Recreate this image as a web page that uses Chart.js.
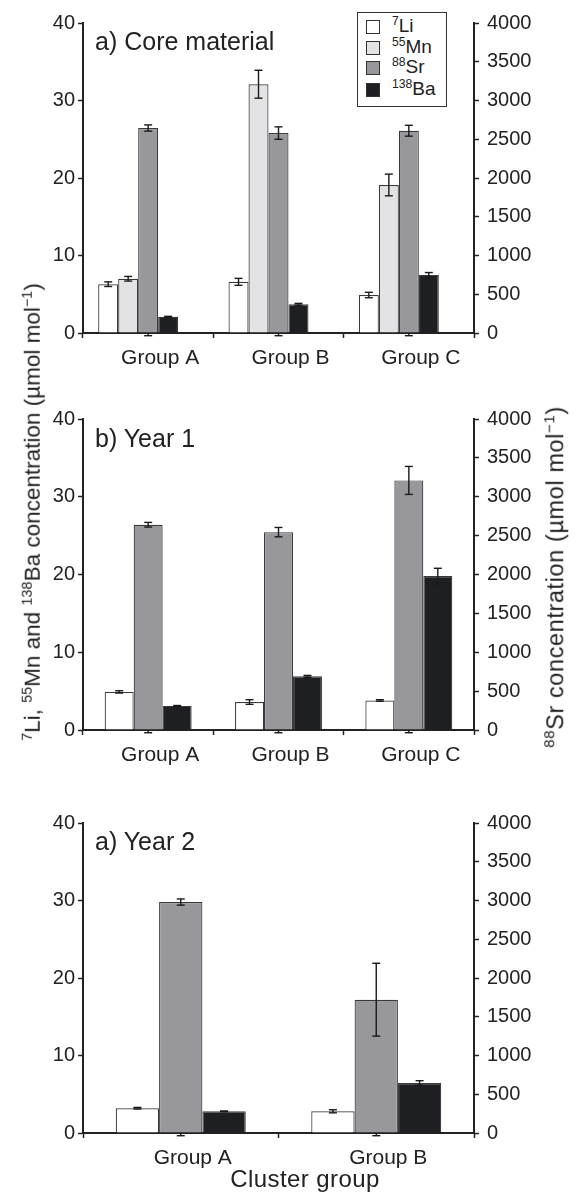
<!DOCTYPE html>
<html><head><meta charset="utf-8">
<script src="https://cdn.jsdelivr.net/npm/chart.js@4.4.1/dist/chart.umd.min.js"></script>
<style>
html,body{margin:0;padding:0;background:#fff;}
body{width:579px;height:1192px;position:relative;overflow:hidden;font-family:"Liberation Sans",Arial,sans-serif;color:#222;}
canvas{position:absolute;left:0;}
.t{position:absolute;white-space:nowrap;line-height:1;color:#222;}
.t sup, .lg sup{font-size:0.64em;vertical-align:0;position:relative;top:-0.58em;}
.rot{transform:translate(-50%,-50%) rotate(-90deg);}
#legend{position:absolute;left:357px;top:12px;width:88px;height:93px;border:1.3px solid #333;background:#fff;}
.lg{position:absolute;left:8px;height:14px;font-size:19px;line-height:1;white-space:nowrap;}
.sw{position:absolute;left:0;top:0;width:12px;height:12px;border:1px solid #333;}
.lt{position:absolute;left:26px;top:-4px;}
</style></head><body>
<canvas id="c1" width="579" height="390" style="top:0px"></canvas>
<canvas id="c2" width="579" height="400" style="top:390px"></canvas>
<canvas id="c3" width="579" height="402" style="top:790px"></canvas>
<div id="legend"></div>
<div id="texts"></div>
<script>
// ---------- data ----------
const isotopes = ['7', '55', '88', '138'];
const elements = ['Li', 'Mn', 'Sr', 'Ba'];
const fillColors = ['#ffffff', '#e3e3e5', '#98979c', '#1e1f23'];

// a) Core material
const coreGroups = ['Group A', 'Group B', 'Group C'];
const coreLi = [6.3, 6.6, 4.9];
const coreLiErr = [0.3, 0.45, 0.35];
const coreMn = [7.0, 32.1, 19.1];
const coreMnErr = [0.3, 1.8, 1.4];
const coreSr = [2645, 2580, 2610];
const coreSrErr = [40, 80, 70];
const coreBa = [2.1, 3.7, 7.5];
const coreBaErr = [0.05, 0.12, 0.3];
const coreZeroErr = [0.35, 0.35, 0.35];

// b) Year 1
const y1Groups = ['Group A', 'Group B', 'Group C'];
const y1Li = [4.9, 3.6, 3.8];
const y1LiErr = [0.15, 0.3, 0.1];
const y1Sr = [2640, 2545, 3210];
const y1SrErr = [30, 60, 180];
const y1Ba = [3.1, 6.9, 19.8];
const y1BaErr = [0.05, 0.12, 1.0];
const y1ZeroErr = [0.35, 0.35, 0.35];

// a) Year 2
const y2Groups = ['Group A', 'Group B'];
const y2Li = [3.2, 2.8];
const y2LiErr = [0.1, 0.2];
const y2Sr = [2980, 1720];
const y2SrErr = [40, 470];
const y2Ba = [2.8, 6.45];
const y2BaErr = [0.05, 0.3];
const y2ZeroErr = [0.35, 0.35];

const leftMax = 40, leftStep = 10;
const rightMax = 4000, rightStep = 500;

const panelTitles = ['a) Core material', 'b) Year 1', 'a) Year 2'];
const xTitle = 'Cluster group';

// ---------- helpers ----------
const FONT = "'Liberation Sans', Arial, sans-serif";
const INK = '#222';

const errorBars = {
  id: 'errorBars',
  afterDatasetsDraw(chart, args, opts) {
    const ctx = chart.ctx;
    ctx.save();
    ctx.strokeStyle = '#1a1a1a';
    ctx.lineWidth = 1.4;
    const cap = 4;
    const seg = (x1, y1, x2, y2) => { ctx.beginPath(); ctx.moveTo(x1, y1); ctx.lineTo(x2, y2); ctx.stroke(); };
    chart.data.datasets.forEach((ds, i) => {
      if (!ds.errors) return;
      const meta = chart.getDatasetMeta(i);
      const sc = chart.scales[meta.yAxisID];
      meta.data.forEach((bar, j) => {
        const v = ds.data[j], e = ds.errors[j];
        if (v == null || e == null) return;
        const yt = sc.getPixelForValue(v + e), yb = sc.getPixelForValue(v - e);
        seg(bar.x, yt, bar.x, yb);
        seg(bar.x - cap, yt, bar.x + cap, yt);
        seg(bar.x - cap, yb, bar.x + cap, yb);
      });
    });
    if (opts && opts.zero) {
      const meta = chart.getDatasetMeta(opts.zeroIndex);
      const sc = chart.scales.y;
      meta.data.forEach((bar, j) => {
        const e = opts.zero[j];
        if (e == null) return;
        const y0 = sc.getPixelForValue(0), yb = sc.getPixelForValue(-e);
        seg(bar.x, y0, bar.x, yb);
        seg(bar.x - cap, yb, bar.x + cap, yb);
      });
    }
    ctx.restore();
  }
};

function barDs(idx, data, errs, axis) {
  return {
    label: isotopes[idx] + elements[idx],
    data: data,
    errors: errs,
    yAxisID: axis,
    backgroundColor: fillColors[idx],
    borderColor: '#3a3a3a',
    borderWidth: 1.2,
    borderSkipped: 'bottom',
    barPercentage: 1.0
  };
}

function makeChart(id, labels, datasets, catPct, padTop, xHeight, zeroErr, zeroIndex) {
  datasets.forEach(d => d.categoryPercentage = catPct);
  const tickFont = { family: FONT, size: 20 };
  const plain = v => String(v);
  return new Chart(document.getElementById(id), {
    type: 'bar',
    data: { labels: labels, datasets: datasets },
    plugins: [errorBars],
    options: {
      responsive: false,
      animation: false,
      layout: { padding: { top: padTop, left: 0, right: 0, bottom: 0 } },
      plugins: {
        legend: { display: false },
        tooltip: { enabled: false },
        errorBars: { zero: zeroErr, zeroIndex: zeroIndex }
      },
      scales: {
        x: {
          offset: true,
          grid: { offset: true, drawOnChartArea: false, drawTicks: true, tickLength: 5, tickColor: INK, tickWidth: 1.5 },
          border: { color: INK, width: 2 },
          ticks: { font: { family: FONT, size: 21 }, color: INK, padding: 8, labelOffset: 12, maxRotation: 0, autoSkip: false },
          afterFit(s) { s.height = xHeight; }
        },
        y: {
          position: 'left', min: 0, max: leftMax,
          ticks: { stepSize: leftStep, font: tickFont, color: INK, padding: 3, callback: plain },
          grid: { drawOnChartArea: false, drawTicks: true, tickLength: 5, tickColor: INK, tickWidth: 1.5 },
          border: { color: INK, width: 2 },
          afterFit(s) { s.width = 83; }
        },
        y2: {
          position: 'right', min: 0, max: rightMax,
          ticks: { stepSize: rightStep, font: tickFont, color: INK, padding: 8, callback: plain },
          grid: { drawOnChartArea: false, drawTicks: true, tickLength: 5, tickColor: INK, tickWidth: 1.5 },
          border: { color: INK, width: 2 },
          afterFit(s) { s.width = 105; }
        }
      }
    }
  });
}

// a) Core material: Li, Mn, Sr(right), Ba, and an empty slot
makeChart('c1', coreGroups, [
  barDs(0, coreLi, coreLiErr, 'y'),
  barDs(1, coreMn, coreMnErr, 'y'),
  barDs(2, coreSr, coreSrErr, 'y2'),
  barDs(3, coreBa, coreBaErr, 'y'),
  { label: '', data: [], yAxisID: 'y', barPercentage: 1.0 }
], 0.767, 23, 57, coreZeroErr, 2);

makeChart('c2', y1Groups, [
  barDs(0, y1Li, y1LiErr, 'y'),
  barDs(2, y1Sr, y1SrErr, 'y2'),
  barDs(3, y1Ba, y1BaErr, 'y')
], 0.667, 29, 60, y1ZeroErr, 1);

makeChart('c3', y2Groups, [
  barDs(0, y2Li, y2LiErr, 'y'),
  barDs(2, y2Sr, y2SrErr, 'y2'),
  barDs(3, y2Ba, y2BaErr, 'y')
], 0.665, 33, 59, y2ZeroErr, 1);

// ---------- legend ----------
const lg = document.getElementById('legend');
const rowTops = [7, 28, 48, 70];
isotopes.forEach((iso, i) => {
  const row = document.createElement('div');
  row.className = 'lg';
  row.style.top = rowTops[i] + 'px';
  row.innerHTML = '<div class="sw" style="background:' + fillColors[i] + '"></div>' +
    '<div class="lt"><sup>' + iso + '</sup>' + elements[i] + '</div>';
  lg.appendChild(row);
});

// ---------- texts ----------
const T = document.getElementById('texts');
function addText(html, left, baseline, size, extra) {
  const d = document.createElement('div');
  d.className = 't';
  d.style.fontSize = size + 'px';
  d.style.left = left + 'px';
  d.style.top = (baseline - 0.8465 * size) + 'px';
  if (extra) Object.assign(d.style, extra);
  d.innerHTML = html;
  T.appendChild(d);
  return d;
}
addText(panelTitles[0], 95, 50, 25);
addText(panelTitles[1], 95, 447, 25);
addText(panelTitles[2], 95, 850, 25);
const xt = addText(xTitle, 305, 1187, 24, { letterSpacing: '0.4px' });
xt.style.transform = 'translateX(-50%)';

function addRot(html, cx, cy, size, ls) {
  const d = document.createElement('div');
  d.className = 't rot';
  d.style.fontSize = size + 'px';
  d.style.left = cx + 'px';
  d.style.top = cy + 'px';
  if (ls) d.style.letterSpacing = ls;
  d.innerHTML = html;
  T.appendChild(d);
}
addRot('<sup>7</sup>Li, <sup>55</sup>Mn and <sup>138</sup>Ba concentration (µmol mol<sup>−1</sup>)', 33, 512, 22.5);
addRot('<sup>88</sup>Sr concentration (µmol mol<sup>−1</sup>)', 556, 577, 23.5, '0.6px');
</script>
</body></html>
